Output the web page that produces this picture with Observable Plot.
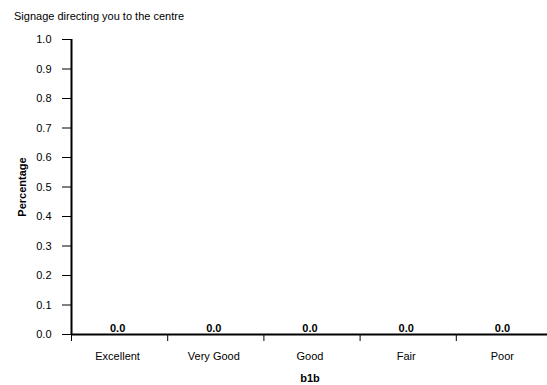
<!DOCTYPE html>
<html>
<head>
<meta charset="utf-8">
<script src="https://cdn.jsdelivr.net/npm/d3@7"></script>
<script src="https://cdn.jsdelivr.net/npm/@observablehq/plot@0.6"></script>
<style>
  body { margin: 0; background: #fff; }
  #wrap { position: relative; width: 547px; height: 385px; overflow: hidden; font-family: "Liberation Sans", Arial, sans-serif; }
  #title { position: absolute; left: 14px; top: 10px; font-size: 11px; line-height: 13px; color: #000; }
</style>
</head>
<body>
<div id="wrap"><div id="title"></div></div>
<script>
const title = "Signage directing you to the centre";
const categories = ["Excellent", "Very Good", "Good", "Fair", "Poor"];
const values = [0.0, 0.0, 0.0, 0.0, 0.0];
const yTicks = [0.0, 0.1, 0.2, 0.3, 0.4, 0.5, 0.6, 0.7, 0.8, 0.9, 1.0];
const xLabel = "b1b";
const yLabel = "Percentage";

const data = categories.map((c, i) => ({cat: c, i, value: values[i]}));
const bounds = d3.range(categories.length + 1);

document.getElementById("title").textContent = title;

const chart = Plot.plot({
  width: 547,
  height: 385,
  marginLeft: 71,
  marginRight: -5,
  marginTop: 39,
  marginBottom: 51,
  style: {fontFamily: '"Liberation Sans", Arial, sans-serif', fontSize: "11px", color: "#000", background: "transparent", overflow: "visible"},
  x: {domain: [0, categories.length]},
  y: {domain: [0, 1]},
  marks: [
    Plot.rectY(data, {x1: "i", x2: d => d.i + 1, y: "value", fill: "#4a6fa5", insetLeft: 20, insetRight: 20}),
    Plot.axisY({ticks: yTicks, tickFormat: d3.format(".1f"), tickSize: 9, tickPadding: 11, label: null, stroke: "#000"}),
    Plot.axisX({ticks: bounds, tickSize: 7, tickFormat: () => "", label: null, stroke: "#000"}),
    Plot.text(data, {x: d => d.i + 0.5, frameAnchor: "bottom", lineAnchor: "middle", dx: -2, dy: 22, text: "cat", fill: "#000"}),
    Plot.ruleY([0], {stroke: "#000", strokeWidth: 2}),
    Plot.ruleX([0], {stroke: "#000", strokeWidth: 2}),
    Plot.text(data, {x: d => d.i + 0.5, y: "value", text: d => d.value.toFixed(1), lineAnchor: "bottom", dx: -2, dy: -3, fontWeight: "bold", fill: "#000"}),
    Plot.text([xLabel], {frameAnchor: "bottom", lineAnchor: "middle", textAnchor: "middle", dx: -2, dy: 44, fontWeight: "bold", fill: "#000"}),
    Plot.text([yLabel], {frameAnchor: "left", textAnchor: "middle", lineAnchor: "middle", dx: -49, rotate: -90, fontWeight: "bold", fill: "#000"})
  ]
});
document.getElementById("wrap").prepend(chart);
</script>
</body>
</html>
